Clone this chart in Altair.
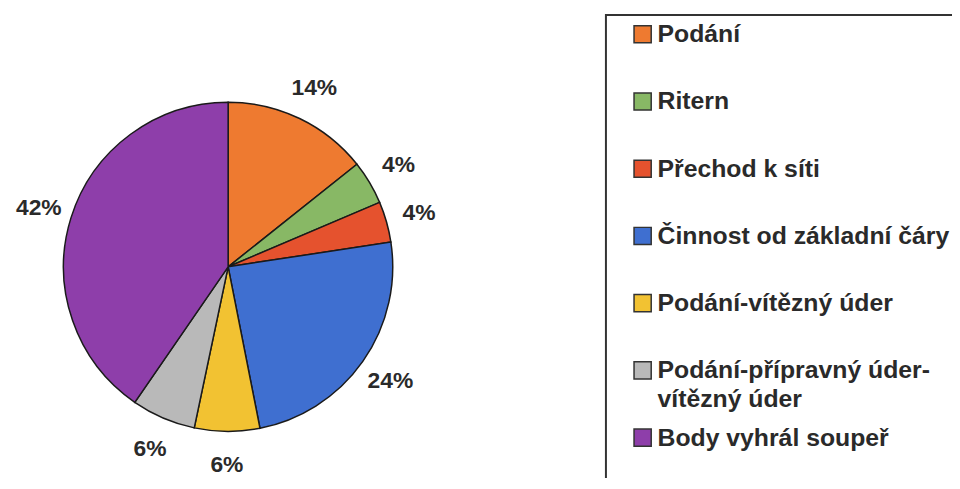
import altair as alt
import pandas as pd

categories = [
    "Podání",
    "Ritern",
    "Přechod k síti",
    "Činnost od základní čáry",
    "Podání-vítězný úder",
    "Podání-přípravný úder-vítězný úder",
    "Body vyhrál soupeř",
]
legend_labels = [
    "Podání",
    "Ritern",
    "Přechod k síti",
    "Činnost od základní čáry",
    "Podání-vítězný úder",
    "Podání-přípravný úder-\nvítězný úder",
    "Body vyhrál soupeř",
]
# slice sizes as read from the drawn wedges (percent)
shares = [14.3, 4.3, 4.0, 24.3, 6.4, 6.3, 40.4]
# percentage labels printed on the chart
pct_labels = ["14%", "4%", "4%", "24%", "6%", "6%", "42%"]
colors = ["#EE7A30", "#88B865", "#E5522E", "#3F6FD0", "#F2C232", "#B9B9B9", "#8E3EAA"]

df = pd.DataFrame({
    "cat": categories,
    "legend": legend_labels,
    "share": shares,
    "pct": pct_labels,
    "idx": list(range(len(categories))),
})

FONT = "Liberation Sans"
TXT = "#2a2a2a"
CX, CY = 222, 259

color = alt.Color("cat:N", scale=alt.Scale(domain=categories, range=colors), legend=None)

base = alt.Chart(df).encode(
    theta=alt.Theta("share:Q", stack=True),
    order=alt.Order("idx:Q"),
    color=color,
)

pie = base.mark_arc(outerRadius=166, stroke="#1a1a1a", strokeWidth=1.5).encode(
    x=alt.value(CX), y=alt.value(CY)
)

pct = base.mark_text(
    radius=200, font=FONT, fontSize=23, fontWeight="bold", align="center", baseline="middle"
).encode(
    x=alt.value(CX), y=alt.value(CY), text="pct:N", color=alt.value(TXT)
)

box = alt.Chart(pd.DataFrame({"a": [0]})).mark_rect(
    fill="white", stroke="#333333", strokeWidth=2
).encode(
    x=alt.value(603), x2=alt.value(1300), y=alt.value(5), y2=alt.value(900)
)

yenc = alt.Y(
    "cat:N", sort=categories, axis=None,
    scale=alt.Scale(type="point", range=[24.5, 431.3], padding=0),
)

leg_sq = alt.Chart(df).mark_square(
    size=300, stroke="#333333", strokeWidth=1.5, opacity=1
).encode(
    x=alt.value(640), y=yenc, color=color
)

leg_txt = alt.Chart(df).mark_text(
    font=FONT, fontSize=25, fontWeight="bold", align="left", baseline="middle",
    lineBreak="\n", lineHeight=29, color=TXT
).encode(
    x=alt.value(655), y=yenc, text="legend:N"
)

chart = alt.layer(box, pie, pct, leg_sq, leg_txt).properties(
    width=952, height=470, padding=0, autosize="none", background="white"
).configure_view(stroke=None)

chart.save("out.html", embed_options={"renderer": "svg", "actions": False})
